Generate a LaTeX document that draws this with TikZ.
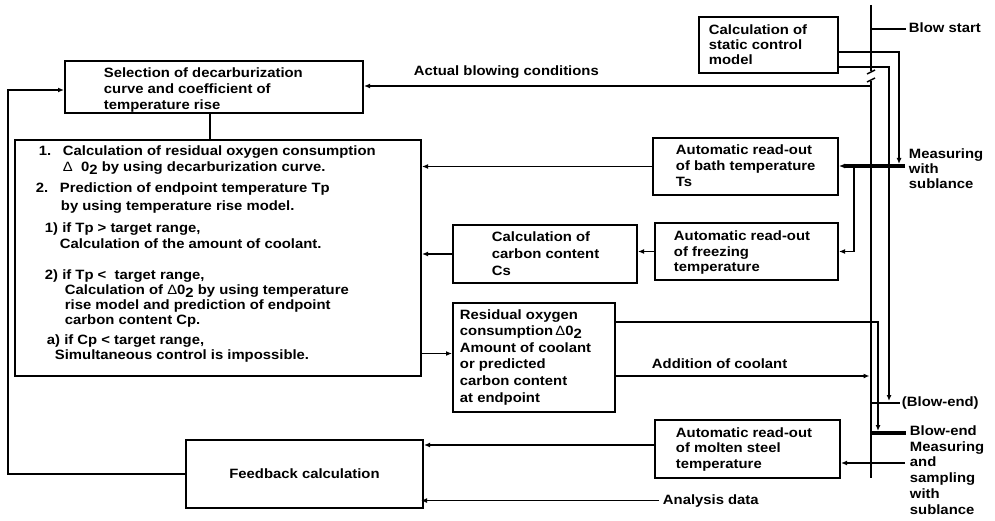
\documentclass[tikz,border=0pt]{standalone}
\usepackage{fontspec}
\setmainfont{Liberation Sans}[FakeStretch=1.1]
\usetikzlibrary{arrows.meta}
\newcommand\subtwo{\raisebox{-3pt}{2}}
\newcommand\tri{{\mdseries Δ}}
\begin{document}
\begin{tikzpicture}[x=1pt,y=-1pt,
  line width=1.9pt,
  boxnode/.style={draw, rectangle, inner sep=0pt, line width=2pt},
  txt/.style={font=\bfseries\fontsize{13.5}{16}\selectfont, inner sep=0pt, anchor=base west, align=left},
  lead/.style={font=\bfseries\fontsize{13.5}{#1}\selectfont},
  arr/.style={-{Latex[length=6pt,width=5pt]}},
  heavy/.style={line width=3pt}]
\fill[white] (0,0) rectangle (995,521);
\useasboundingbox (0,0) rectangle (995,521);

% boxes
\node[boxnode, minimum width=298pt, minimum height=52pt] (sel) at (214,87) {};
\node[boxnode, minimum width=406pt, minimum height=236pt] (big) at (218,258) {};
\node[boxnode, minimum width=139pt, minimum height=56pt] (stat) at (768.5,45) {};
\node[boxnode, minimum width=185pt, minimum height=57pt] (bath) at (745.5,166.5) {};
\node[boxnode, minimum width=183pt, minimum height=57pt] (frz) at (746.5,251.5) {};
\node[boxnode, minimum width=184pt, minimum height=58pt] (cs) at (545,254) {};
\node[boxnode, minimum width=162pt, minimum height=109pt] (res) at (534,357.5) {};
\node[boxnode, minimum width=185pt, minimum height=58pt] (molt) at (747.5,449) {};
\node[boxnode, minimum width=237pt, minimum height=68pt,
      font=\bfseries\fontsize{13.5}{16}\selectfont] (fb) at (304.5,474) {Feedback calculation};

% box texts (anchored at the baseline of their last line)
\node[txt] (selt) at (103,110) {Selection of decarburization\\curve and coefficient of\\temperature rise};
\node[txt, lead=15] (statt) at (708,65) {Calculation of\\static control\\model};
\node[txt] (batht) at (675,187) {Automatic read-out\\of bath temperature\\Ts};
\node[txt] (frzt) at (673,272) {Automatic read-out\\of freezing\\temperature};
\node[txt, lead=16.5] (cst) at (491,275) {Calculation of\\carbon content\\Cs};
\node[txt, lead=16.6] (rest) at (459,402)
  {Residual oxygen\\consumption\,\tri0\subtwo\\Amount of coolant\\or predicted\\carbon content\\at endpoint};
\node[txt, lead=15.5] (moltt) at (675,468) {Automatic read-out\\of molten steel\\temperature};

% procedure text
\node[txt] (n1) at (38,156) {1.};
\node[txt] (l1) at (62,156) {Calculation of residual oxygen consumption};
\node[txt] (l2) at (62,172) {\tri\ \ 0\subtwo\ by using decarburization curve.};
\node[txt] (n2) at (35,193) {2.};
\node[txt] (l3) at (59,193) {Prediction of endpoint temperature Tp};
\node[txt] (l4) at (60,211) {by using temperature rise model.};
\node[txt] (l5) at (44,233) {1) if Tp > target range,};
\node[txt] (l6) at (59,249) {Calculation of the amount of coolant.};
\node[txt] (l7) at (44,279) {2) if Tp < \ target range,};
\node[txt] (l8) at (64,294) {Calculation of \tri0\subtwo\ by using temperature};
\node[txt] (l9) at (64,309) {rise model and prediction of endpoint};
\node[txt] (l10) at (64,324) {carbon content Cp.};
\node[txt] (l11) at (46,344) {a) if Cp < target range,};
\node[txt] (l12) at (54,359) {Simultaneous control is impossible.};

% free labels
\node[txt] (abc) at (413,76) {Actual blowing conditions};
\node[txt] (addc) at (651,368) {Addition of coolant};
\node[txt] (anl) at (662,504) {Analysis data};
\node[txt] (bs) at (908,33) {Blow start};
\node[txt, lead=15] (meas) at (908,189) {Measuring\\with\\sublance};
\node[txt] (pbe) at (901,406) {(Blow-end)};
\node[txt] (be) at (909,435) {Blow-end};
\node[txt, lead=15.75] (msamp) at (909,514) {Measuring\\and\\sampling\\with\\sublance};

% sublance bus with its cut
\coordinate (busTop) at (871,5);
\coordinate (busCutA) at (871,71);
\coordinate (busCutB) at (871,81);
\coordinate (busBot) at (871,478);
\draw[line width=2pt] (busTop) -- (busCutA);
\draw[line width=1.5pt] ([shift={(-4,3)}]busCutA) -- ([shift={(4,-1)}]busCutA);
\draw[line width=1.5pt] ([shift={(-4,1)}]busCutB) -- ([shift={(4,-3)}]busCutB);
\draw[line width=2.8pt] (busCutB) -- (busBot);

% blow start
\coordinate (bsL) at (871,29);
\draw[line width=2.8pt] (bsL) -- ([xshift=-2pt]bsL -| bs.west);

% measuring with sublance
\coordinate (mR) at (905,166);
\draw[arr, line width=3.2pt] (mR) -- (mR -| bath.east);
\coordinate (br) at (854,166);
\draw[arr] (br) |- (frz.east);

% static model outputs
\coordinate (s1) at ([yshift=-7pt]stat.east);
\coordinate (m1) at (899,164);
\draw[arr] (s1) -| (m1);
\coordinate (s2) at ([yshift=-22pt]stat.east);
\coordinate (be1) at (889,401);
\draw[arr] (s2) -| (be1);

% residual box outputs
\coordinate (r1) at ([yshift=-20pt]res.north east);
\coordinate (be2) at (878,431);
\draw[arr] (r1) -| (be2);
\coordinate (r2) at ([yshift=-74pt]res.north east);
\draw[arr, shorten >=1.5pt] (r2) -- (r2 -| busBot);

% blow-end lines
\coordinate (beA) at (871,403);
\draw (beA) -- ([xshift=-1pt]beA -| pbe.west);
\coordinate (beB) at (871,433);
\draw[line width=3.2pt] (beB) -- ([xshift=-3pt]beB -| be.west);

% molten steel measurement
\coordinate (sR) at (905,463);
\draw[arr] (sR) -- (sR -| molt.east);

% actual blowing conditions
\coordinate (busB) at (871,86);
\draw[arr] (busB) -- (busB -| sel.east);

% left-hand flow
\draw ([xshift=-4pt]sel.south) -- ([xshift=-4pt]sel.south |- big.north);
\draw[arr] (bath.west) -- (bath.west -| big.east);
\draw[arr] (frz.west) -- (frz.west -| cs.east);
\draw[arr] (cs.west) -- (cs.west -| big.east);
\coordinate (resIn) at ([yshift=4pt]res.west);
\draw[arr] (resIn -| big.east) -- (resIn);
\coordinate (moltOut) at ([yshift=4pt]molt.west);
\draw[arr] (moltOut) -- (moltOut -| fb.east);
\draw[arr] ([xshift=-3pt]anl.west) -- ([xshift=-3pt]anl.west -| fb.east);

% feedback loop
\coordinate (loopx) at (8,0);
\coordinate (selIn) at ([yshift=-3pt]sel.west);
\draw[arr] (fb.west) -- (fb.west -| loopx) |- (selIn);
\end{tikzpicture}
\end{document}
